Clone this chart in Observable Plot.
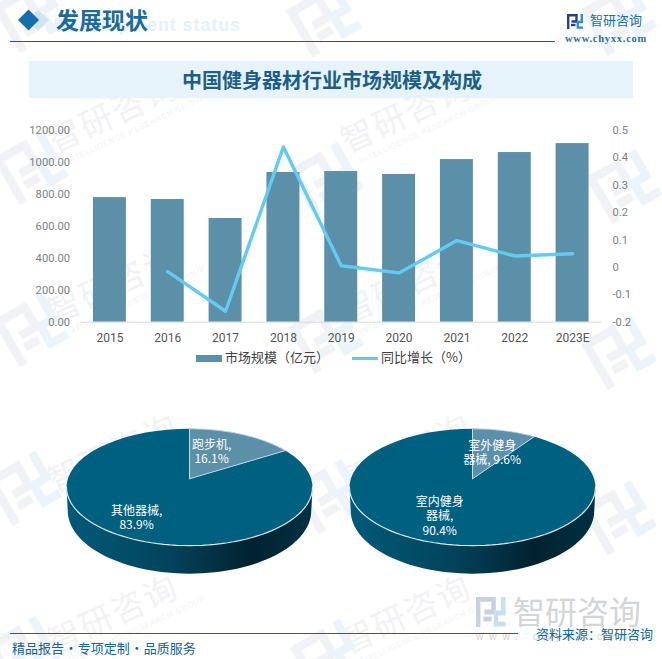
<!DOCTYPE html>
<html lang="zh">
<head>
<meta charset="utf-8">
<script src="https://cdn.jsdelivr.net/npm/d3@7"></script>
<script src="https://cdn.jsdelivr.net/npm/@observablehq/plot@0.6"></script>
<style>
  html, body { margin: 0; padding: 0; background: #fff; }
  #page { position: relative; width: 662px; height: 659px; overflow: hidden; font-family: "Noto Sans CJK SC", sans-serif; text-spacing-trim: space-all; }
  #page > * { position: absolute; }
  .t { white-space: nowrap; line-height: 1; }
</style>
</head>
<body>
<div id="page"></div>
<script>
// ---- chart data ----
const years = ["2015", "2016", "2017", "2018", "2019", "2020", "2021", "2022", "2023E"];
const marketSize = [780, 768, 649, 937, 943, 925, 1018, 1062, 1118];
const growthYears = ["2016", "2017", "2018", "2019", "2020", "2021", "2022", "2023E"];
const growth = [-0.015, -0.16, 0.44, 0.006, -0.02, 0.098, 0.042, 0.05];
const leftTicks = [0, 200, 400, 600, 800, 1000, 1200];
const rightTicks = [-0.2, -0.1, 0, 0.1, 0.2, 0.3, 0.4, 0.5];

const pieLeftShare = 16.1;
const pieLeftLabels = ["跑步机,\n16.1%", "其他器械,\n83.9%"];
const pieRightShare = 9.6;
const pieRightLabels = ["室外健身\n器械, 9.6%", "室内健身\n器械,\n90.4%"];

const barColor = "#5C8FA8", lineColor = "#63CBF2", faceColor = "#006080";
const font = '"Noto Sans CJK SC", sans-serif';
const page = document.getElementById("page");

// ---- decorative background (watermarks, header logo) ----
const logoPaths = (a, b) => `
  <path d="M1.2 15V1.2H9.5V7.5H4.5" fill="none" stroke="${a}" stroke-width="2.4"/>
  <path d="M4 11H8.5" fill="none" stroke="${a}" stroke-width="2.4"/>
  <path d="M14.8 0V8H10.8V13.6H16" fill="none" stroke="${b}" stroke-width="2.4"/>`;
const wmCols = [118, 411];
const wmRows = [124, 295, 464, 625];
const iconSpots = [[32,17],[325,21],[32,169],[327,181],[625,188],[32,331],[327,338],[620,354],[25,490],[331,498],[620,519],[25,655],[329,658],[620,20]];
let wm = "";
for (const y of wmRows) for (const x of wmCols) {
  wm += `<g transform="translate(${x},${y}) rotate(-25)">
    <text x="0" y="0" text-anchor="middle" font-size="33" letter-spacing="2" fill="#F1F2F4" font-family='${font}'>智研咨询</text>
    <text x="14" y="15" text-anchor="middle" font-size="8" letter-spacing=".6" fill="#F2F3F5" font-family="Liberation Sans">INTELLIGENCE RESEARCH GROUP</text>
  </g>`;
}
for (const [x, y] of iconSpots) {
  wm += `<g transform="translate(${x},${y}) rotate(-30) scale(3.6) translate(-8,-8)">${logoPaths("#F0F2F6", "#ECF4FA")}</g>`;
}
const bg = `<svg width="662" height="659" style="left:0;top:0" xmlns="http://www.w3.org/2000/svg">
  <defs>
    <linearGradient id="pieSide" x1="0" x2="1" y1="0" y2="0">
      <stop offset="0" stop-color="#015A78"/>
      <stop offset=".42" stop-color="#03435C"/>
      <stop offset=".75" stop-color="#01222F"/>
      <stop offset="1" stop-color="#013142"/>
    </linearGradient>
  </defs>
  ${wm}
  <text x="241" y="31" text-anchor="end" font-size="18" font-weight="700" letter-spacing=".9" fill="#E6F2FA" font-family="Liberation Sans">Development status</text>
  <path d="M38 10L49 20L38 31L27 20Z" fill="#CFE3F1"/>
  <path d="M28.5 9.5L39 20L28.5 30.5L18 20Z" fill="#1470AB"/>
  <rect x="29" y="61" width="604" height="37" fill="#E6F3FB"/>
  <line x1="10" x2="555" y1="41.5" y2="41.5" stroke="#1B5E87" stroke-width="1"/>
  <g transform="translate(567,14)">${logoPaths("#2A3C8C", "#2A8FD0")}</g>
  <g transform="translate(476,597) scale(1.85,2)">${logoPaths("#C9D0DE", "#C6E0F0")}</g>
  <text x="513" y="624" font-size="32" fill="#D3D5D7" font-family='${font}'>智研咨询</text>
  <text x="476" y="640" font-size="10" letter-spacing="6" fill="#D0D3D6" font-family="Liberation Sans">www. chyxx.com</text>
  <line x1="10" x2="518" y1="633.5" y2="633.5" stroke="#0F6596" stroke-width="1.2"/>
</svg>`;
page.insertAdjacentHTML("beforeend", bg);

function text(str, x, cy, size, color, extra = "") {
  page.insertAdjacentHTML("beforeend",
    `<div class="t" style="left:${x}px;top:${cy - size / 2 - 1}px;font-size:${size}px;color:${color};${extra}">${str}</div>`);
}
text("发展现状", 56, 20, 23, "#1A6A9E", "font-weight:700;");
text("智研咨询", 590, 20, 13, "#1C6FA6");
text("www.chyxx.com", 565, 40, 10.5, "#2F6E9C", "font-family:'Liberation Serif';font-weight:700;letter-spacing:.75px;");
text("中国健身器材行业市场规模及构成", 182, 81, 20, "#1B5E87", "font-weight:700;");
text("精品报告 · 专项定制 · 品质服务", 12, 648, 13, "#0F6596", "word-spacing:-2.5px;");
text("资料来源：智研咨询", 536, 634, 13, "#0F6596");

// ---- bar + line chart ----
const growthToLeft = v => (v + 0.2) / 0.7 * 1200;
const barData = years.map((year, i) => ({year, value: marketSize[i]}));
const lineData = growthYears.map((year, i) => ({year, value: growth[i]}));
const combo = Plot.plot({
  width: 662, height: 260,
  marginTop: 10, marginBottom: 58.3, marginLeft: 80.5, marginRight: 61,
  style: {background: "transparent", overflow: "visible", fontFamily: "Roboto"},
  x: {domain: years, paddingInner: 0.43, paddingOuter: 0.215, round: false, axis: null},
  y: {domain: [0, 1200], axis: null},
  marks: [
    Plot.barY(barData, {x: "year", y: "value", fill: barColor}),
    Plot.ruleY([0], {stroke: "#D9D9D9", strokeWidth: 1}),
    Plot.line(lineData, {x: "year", y: d => growthToLeft(d.value), stroke: lineColor, strokeWidth: 3.4, strokeLinejoin: "round"}),
    Plot.axisY({anchor: "left", ticks: leftTicks, tickSize: 0, tickPadding: 11, tickFormat: d => d.toFixed(2), fill: "#7F7F7F", fontSize: 11.2, label: null}),
    Plot.axisY({anchor: "right", ticks: rightTicks.map(growthToLeft), tickSize: 0, tickPadding: 11, textAnchor: "start",
      tickFormat: (d, i) => String(rightTicks[i]), fill: "#7F7F7F", fontSize: 11.2, label: null}),
    Plot.axisX({anchor: "bottom", tickSize: 0, tickPadding: 11, fill: "#555555", fontSize: 12, label: null})
  ]
});
combo.style.left = "0";
combo.style.top = "120px";
page.appendChild(combo);

// legend
page.insertAdjacentHTML("beforeend", `<div style="left:196px;top:354.5px;width:26px;height:7px;background:${barColor}"></div>`);
text("市场规模（亿元）", 225, 357.5, 13, "#404040");
page.insertAdjacentHTML("beforeend", `<div style="left:352px;top:356.5px;width:26px;height:3px;background:${lineColor}"></div>`);
text("同比增长（%）", 381, 357.5, 13, "#404040");

// ---- 3D pies ----
const k = 0.144, sq = Math.sqrt(1 - k * k);
const rim = t => {
  const x = Math.sin(2 * Math.PI * t), y = Math.cos(2 * Math.PI * t);
  return {x: x * sq / (1 + k * y), y: (y + k) / (1 + k * y)};
};
function pie3d(share, labels, labelPos, cx) {
  const W = 300, H = 170, top = 415, cy = 486.7, rx = 123, ry = 58.4;
  const frac = share / 100;
  const steps = d3.range(0, 61);
  const apex = {x: 0, y: k};
  const ellipse = steps.map(i => rim(i / 60));
  const wedge = [apex, ...steps.map(i => rim(i / 60 * frac)), apex];
  const side = [{x: -1, y: 0}, ...steps.map(i => {
    const a = Math.PI * i / 60;
    return {x: -0.99 * Math.cos(a), y: -0.4 - 1.08 * Math.sin(a)};
  }), {x: 1, y: 0}];
  const lower = steps.map(i => {
    const a = Math.PI * i / 60;
    return {x: -Math.cos(a), y: -Math.sin(a)};
  });
  const plot = Plot.plot({
    width: W, height: H, margin: 0,
    style: {background: "transparent", overflow: "visible", fontFamily: font},
    x: {domain: [-1, 1], range: [W / 2 - rx, W / 2 + rx], axis: null},
    y: {domain: [-1, 1], range: [cy + ry - top, cy - ry - top], axis: null},
    marks: [
      Plot.line(side, {x: "x", y: "y", fill: "url(#pieSide)", stroke: "none"}),
      Plot.line(ellipse, {x: "x", y: "y", fill: faceColor, stroke: "none"}),
      Plot.line(wedge, {x: "x", y: "y", fill: barColor, stroke: "#C9DCE5", strokeWidth: 1}),
      Plot.line(lower, {x: "x", y: "y", stroke: "#DCE9EF", strokeWidth: 1.2}),
      Plot.text(labels, {x: (d, i) => labelPos[i][0], y: (d, i) => labelPos[i][1], text: d => d,
        fill: "#FFFFFF", fontSize: 12, lineHeight: 1.2})
    ]
  });
  plot.style.left = (cx - W / 2) + "px";
  plot.style.top = top + "px";
  page.appendChild(plot);
}
pie3d(pieLeftShare, pieLeftLabels, [[0.18, 0.61], [-0.43, -0.52]], 189);
pie3d(pieRightShare, pieRightLabels, [[0.16, 0.60], [-0.267, -0.485]], 471.8);
</script>
</body>
</html>
